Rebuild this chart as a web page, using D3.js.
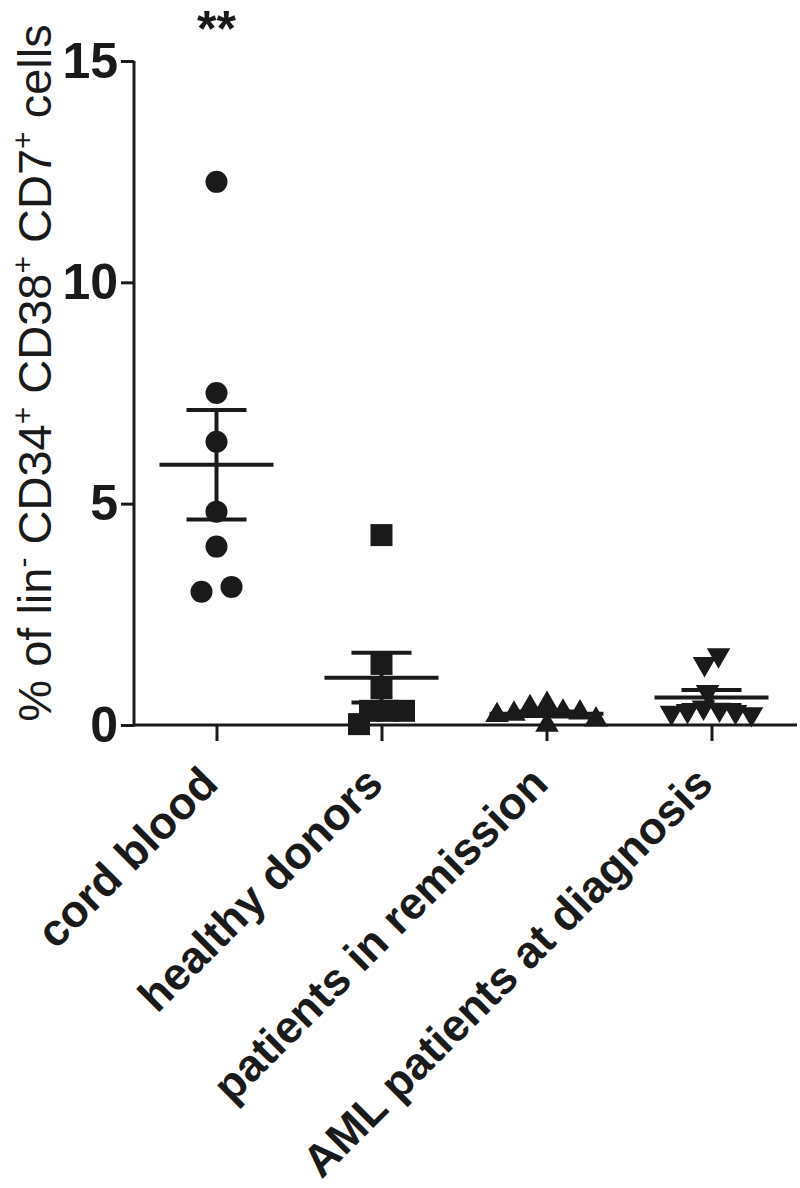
<!DOCTYPE html>
<html><head><meta charset="utf-8">
<script src="https://cdn.jsdelivr.net/npm/d3@7"></script>
<style>body{margin:0;background:#fff}svg{display:block}</style>
</head><body>
<script>
// ---- data ----
const categories = ["cord blood", "healthy donors", "patients in remission", "AML patients at diagnosis"];
const cordBlood = [12.27, 7.5, 6.4, 4.82, 4.03, 3.12, 3.01];
const healthyDonors = [4.29, 1.38, 0.83, 0.32, 0.32, 0.32, 0.02];
const remission = [0.47, 0.4, 0.3, 0.28, 0.25, 0.22, 0.12, 0.0];
const amlDiagnosis = [1.58, 1.38, 0.75, 0.4, 0.35, 0.32, 0.3, 0.28, 0.25];
const yTicks = [0, 5, 10, 15];
const significance = ["**", "", "", ""];

const groups = [cordBlood, healthyDonors, remission, amlDiagnosis];
const shapes = ["circle", "square", "triangle", "triangleDown"];

const W = 800, H = 1188;
const svg = d3.select("body").append("svg").attr("width", W).attr("height", H);

const x = d3.scalePoint().domain(categories).range([134, 794]).padding(0.5);
const y = d3.scaleLinear().domain([0, 15]).range([725, 61]);

const ink = "#1a1a1a";
const font = "Liberation Sans, Arial, sans-serif";

// axes
const yAxis = svg.append("g").attr("transform", "translate(134,0)")
  .call(d3.axisLeft(y).tickValues(yTicks).tickSize(13).tickPadding(3).tickFormat(d3.format("d")));
yAxis.select(".domain").attr("stroke", ink).attr("stroke-width", 3).attr("d", "M0,61V726.5");
yAxis.selectAll(".tick line").attr("stroke", ink).attr("stroke-width", 3);
yAxis.selectAll(".tick text").attr("fill", ink)
  .style("font-family", font).style("font-weight", "bold").style("font-size", "50px");

const xAxis = svg.append("g").attr("transform", "translate(0,725)")
  .call(d3.axisBottom(x).tickSize(16).tickPadding(6));
xAxis.select(".domain").attr("stroke", ink).attr("stroke-width", 3).attr("d", "M133,0H797");
xAxis.selectAll(".tick line").attr("stroke", ink).attr("stroke-width", 3);
xAxis.selectAll(".tick text").attr("fill", ink)
  .style("font-family", font).style("font-weight", "bold").style("font-size", "45px")
  .attr("text-anchor", "end")
  .attr("transform", "translate(-8,50) rotate(-45)")
  .attr("dy", "0.35em").attr("y", 0);

// y title
const title = svg.append("text")
  .attr("transform", "translate(51,373) rotate(-90)")
  .attr("text-anchor", "middle").attr("fill", ink)
  .style("font-family", font).style("font-size", "47px");
const parts = [["% of lin", false], ["-", true], [" CD34", false], ["+", true], [" CD38", false], ["+", true], [" CD7", false], ["+", true], [" cells", false]];
parts.forEach(([t, sup]) => {
  title.append("tspan").text(t)
    .attr("baseline-shift", sup ? "60%" : null)
    .style("font-size", sup ? "30px" : null);
});

// beeswarm placement
function swarm(vals, minDist) {
  const order = vals.map((v, i) => i).sort((a, b) => vals[b] - vals[a]);
  const placed = [];
  const offs = new Array(vals.length).fill(0);
  order.forEach(i => {
    const py = y(vals[i]);
    let best = 0;
    for (let k = 0; k < 200; k++) {
      const cand = (k % 2 === 0 ? 1 : -1) * Math.ceil(k / 2);
      const ok = placed.every(p => Math.hypot(p.x - cand, p.y - py) >= minDist);
      if (ok) { best = cand; break; }
    }
    placed.push({ x: best, y: py, i });
    offs[i] = best;
  });
  // center connected clusters
  const n = placed.length, seen = new Array(n).fill(false);
  for (let a = 0; a < n; a++) {
    if (seen[a]) continue;
    const stack = [a], comp = []; seen[a] = true;
    while (stack.length) {
      const c = stack.pop(); comp.push(c);
      for (let b = 0; b < n; b++) if (!seen[b] && Math.abs(placed[b].y - placed[c].y) < minDist * 1.05 && Math.hypot(placed[b].x - placed[c].x, placed[b].y - placed[c].y) < minDist * 1.6) { seen[b] = true; stack.push(b); }
    }
    const xs = comp.map(c => placed[c].x);
    const mid = (d3.min(xs) + d3.max(xs)) / 2;
    comp.forEach(c => offs[placed[c].i] = placed[c].x - mid);
  }
  return offs;
}

const symbolGen = {
  circle: d3.symbol().type(d3.symbolCircle).size(Math.PI * 11 * 11),
  square: d3.symbol().type(d3.symbolSquare).size(22 * 22),
  triangle: d3.symbol().type(d3.symbolTriangle).size(240),
  triangleDown: d3.symbol().type(d3.symbolTriangle).size(240)
};
const minDists = [30, 17, 17, 16];

groups.forEach((vals, gi) => {
  const cx = x(categories[gi]);
  const offs = swarm(vals, minDists[gi]);
  const g = svg.append("g");
  g.selectAll("path.pt").data(vals).join("path").attr("class", "pt")
    .attr("d", symbolGen[shapes[gi]])
    .attr("fill", ink)
    .attr("transform", (d, i) => `translate(${cx + offs[i]},${y(d)})` + (shapes[gi] === "triangleDown" ? " rotate(180)" : ""));

  const m = d3.mean(vals);
  const sem = d3.deviation(vals) / Math.sqrt(vals.length);
  const lg = svg.append("g").attr("stroke", ink).attr("stroke-width", 4);
  lg.append("line").attr("x1", cx - 57).attr("x2", cx + 57).attr("y1", y(m)).attr("y2", y(m));
  lg.append("line").attr("x1", cx - 30).attr("x2", cx + 30).attr("y1", y(m + sem)).attr("y2", y(m + sem));
  lg.append("line").attr("x1", cx - 30).attr("x2", cx + 30).attr("y1", y(m - sem)).attr("y2", y(m - sem));
  lg.append("line").attr("x1", cx).attr("x2", cx).attr("y1", y(m + sem)).attr("y2", y(m - sem));
});

// significance
svg.selectAll("text.sig").data(significance).join("text").attr("class", "sig")
  .attr("x", (d, i) => x(categories[i])).attr("y", 46)
  .attr("text-anchor", "middle").attr("fill", ink)
  .style("font-family", font).style("font-weight", "bold").style("font-size", "50px")
  .text(d => d);
</script>
</body></html>
